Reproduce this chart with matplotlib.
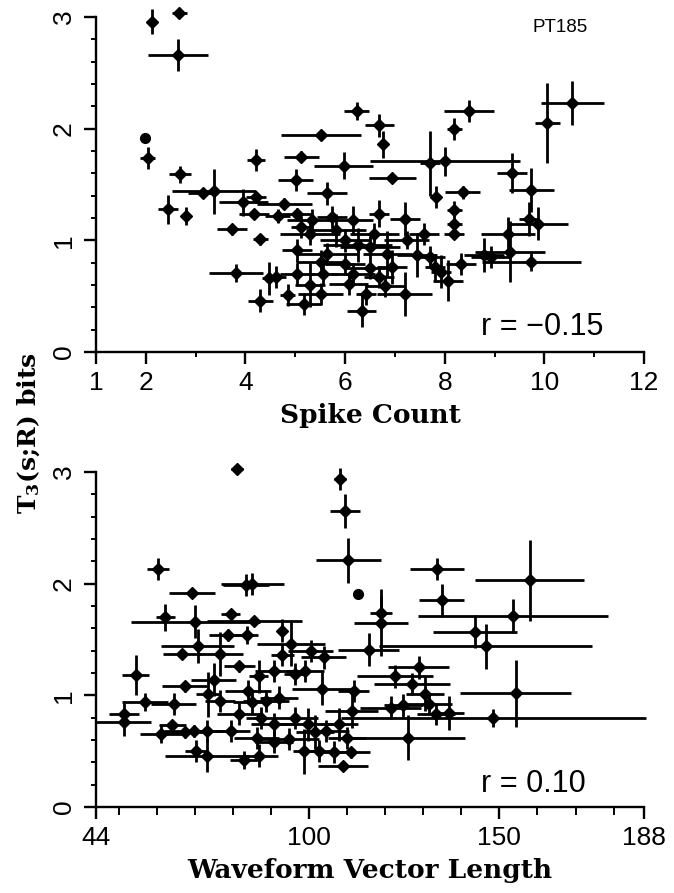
import matplotlib
matplotlib.use('Agg')
import matplotlib.pyplot as plt
from matplotlib.ticker import MultipleLocator, FixedLocator

plt.rcParams['mathtext.fontset'] = 'dejavuserif'

# top panel: spike count
spike_x = [2.12, 2.67, 2.64, 2.04, 2.69, 2.45, 2.81, 3.37, 3.14, 3.73, 3.96, 4.22, 4.22, 4.18, 4.30,
           3.81, 4.30, 4.48, 4.65, 4.78, 5.01, 5.12, 5.51, 5.04, 5.64, 5.97, 6.23, 6.69, 6.76, 6.95,
           7.71, 8.01, 7.82, 8.19, 8.49, 10.06, 10.56, 9.35, 9.74, 8.36, 8.19, 8.19, 8.19, 9.70, 9.87,
           9.27, 9.74, 9.31, 8.79, 8.32, 8.06, 7.93, 7.20, 7.20, 7.24, 7.45, 6.33, 6.42, 6.80, 5.51,
           5.17, 4.85, 5.04, 5.30, 5.34, 5.30, 5.73, 5.81, 5.99, 6.16, 6.25, 6.50, 6.59, 6.85, 5.64,
           5.51, 5.99, 6.16, 6.50, 6.94, 6.68, 5.56, 6.07, 4.61, 5.04, 5.12, 7.58, 7.71, 7.80, 6.68, 8.92]
spike_y = [2.96, 3.04, 2.66, 1.74, 1.59, 1.28, 1.22, 1.44, 1.42, 1.10, 1.34, 1.39, 1.72, 1.24, 1.01,
           0.71, 0.46, 0.66, 1.22, 1.33, 1.54, 1.75, 1.94, 1.24, 1.42, 1.67, 2.16, 2.03, 1.86, 1.56,
           1.69, 1.71, 1.39, 2.00, 2.16, 2.05, 2.23, 1.60, 1.45, 1.43, 1.27, 1.15, 1.06, 1.19, 1.15,
           1.06, 0.81, 0.90, 0.87, 0.79, 0.64, 0.72, 0.52, 1.19, 1.00, 0.87, 0.37, 0.52, 0.59, 0.52,
           0.43, 0.51, 0.70, 0.60, 1.18, 1.06, 1.21, 1.09, 1.00, 1.18, 0.96, 0.94, 1.06, 0.88, 0.88,
           0.81, 0.79, 0.70, 0.75, 0.76, 0.67, 0.70, 0.61, 0.67, 0.91, 1.12, 1.06, 0.85, 0.76, 1.24, 0.85]
spike_xerr = [0.05, 0.15, 0.60, 0.15, 0.22, 0.20, 0.10, 0.85, 0.30, 0.30, 0.50, 0.20, 0.18, 0.30, 0.15,
              0.55, 0.25, 0.15, 0.25, 0.55, 0.35, 0.35, 0.80, 0.30, 0.40, 0.60, 0.25, 0.30, 0.08, 0.47,
              0.20, 1.50, 0.10, 0.15, 0.50, 0.25, 0.63, 0.30, 0.45, 0.35, 0.15, 0.15, 0.20, 0.20, 0.60,
              0.55, 1.00, 0.70, 0.40, 0.30, 0.30, 0.20, 0.55, 0.30, 0.45, 0.40, 0.30, 0.20, 0.40, 0.45,
              0.35, 0.15, 0.35, 0.30, 0.50, 0.60, 0.30, 0.60, 0.50, 0.40, 0.70, 0.60, 0.50, 0.50, 0.60,
              0.50, 0.40, 0.45, 0.50, 0.30, 0.30, 0.30, 0.40, 0.20, 0.30, 0.20, 0.30, 0.30, 0.20, 0.20, 0.40]
spike_yerr = [0.11, 0.04, 0.14, 0.10, 0.08, 0.13, 0.08, 0.20, 0.04, 0.05, 0.12, 0.04, 0.10, 0.04, 0.05,
              0.08, 0.10, 0.15, 0.06, 0.05, 0.10, 0.05, 0.03, 0.05, 0.10, 0.12, 0.08, 0.10, 0.12, 0.04,
              0.29, 0.13, 0.10, 0.10, 0.10, 0.36, 0.20, 0.18, 0.20, 0.06, 0.08, 0.04, 0.05, 0.15, 0.15,
              0.15, 0.08, 0.27, 0.15, 0.10, 0.18, 0.15, 0.20, 0.15, 0.08, 0.20, 0.15, 0.10, 0.10, 0.10,
              0.10, 0.10, 0.10, 0.20, 0.10, 0.10, 0.10, 0.15, 0.10, 0.13, 0.15, 0.10, 0.10, 0.20, 0.10,
              0.10, 0.10, 0.10, 0.10, 0.15, 0.10, 0.10, 0.10, 0.10, 0.10, 0.10, 0.10, 0.10, 0.12, 0.12, 0.10]
spike_dot = [1.99, 1.92]

# bottom panel: waveform vector length
wave_x = [81.1, 108.1, 109.5, 110.3, 133.6, 134.8, 158.0, 153.5, 143.5, 146.4, 154.3, 148.4, 60.3, 69.2,
          62.2, 70.1, 79.4, 85.6, 83.4, 85.1, 78.6, 83.6, 92.8, 70.7, 66.7, 76.6, 54.4, 51.3, 51.3, 56.9,
          61.2, 64.1, 64.4, 67.3, 70.3, 73.1, 73.2, 69.8, 73.4, 74.9, 76.6, 79.4, 81.7, 82.8, 86.8, 86.8,
          87.3, 90.8, 93.0, 95.3, 96.4, 99.0, 100.4, 103.8, 103.5, 98.7, 102.7, 106.6, 108.9, 111.0, 94.7,
          96.4, 99.8, 101.5, 104.4, 107.8, 110.0, 111.2, 111.7, 115.7, 118.9, 118.9, 121.4, 124.8, 125.9,
          127.1, 128.8, 130.5, 131.6, 133.3, 136.7, 84.9, 84.0, 88.6, 92.0, 81.7, 90.8, 67.5, 86.2, 90.8, 122.5]
wave_y = [3.03, 2.94, 2.65, 2.21, 2.13, 1.85, 2.03, 1.71, 1.57, 1.44, 1.02, 0.80, 2.13, 1.92,
          1.70, 1.66, 1.73, 1.67, 1.99, 2.00, 1.54, 1.54, 1.58, 1.44, 1.37, 1.37, 1.18, 0.83, 0.76, 0.94,
          0.65, 0.73, 0.92, 1.08, 0.50, 0.46, 0.68, 0.68, 1.01, 1.14, 0.95, 0.68, 1.26, 0.42, 0.46, 1.17,
          0.80, 1.22, 1.36, 1.46, 1.19, 1.22, 1.40, 1.34, 1.06, 0.50, 0.50, 0.49, 0.37, 0.49, 0.61,
          0.80, 0.74, 0.67, 0.68, 0.74, 0.62, 0.86, 1.04, 1.41, 1.74, 1.65, 0.89, 0.91, 0.62,
          1.10, 1.25, 1.01, 0.92, 0.83, 0.84, 0.94, 1.04, 0.95, 0.98, 0.83, 0.74, 0.67, 0.62, 0.58, 1.17]
wave_xerr = [1.5, 1.5, 4.0, 8.5, 7.0, 6.0, 14.3, 25.0, 11.0, 28.0, 14.6, 40.0, 3.0, 6.0,
             2.5, 17.0, 2.5, 12.5, 6.0, 8.3, 5.0, 3.0, 1.0, 9.6, 5.0, 6.0, 3.5, 4.0, 7.2, 6.0,
             5.7, 3.5, 6.0, 6.0, 3.0, 11.0, 3.0, 8.0, 3.0, 6.0, 4.0, 5.0, 4.0, 3.5, 5.0, 2.5,
             4.0, 5.0, 3.0, 9.0, 3.0, 5.0, 6.0, 6.0, 8.0, 3.0, 4.0, 3.0, 6.5, 5.0, 8.0,
             6.0, 10.0, 5.0, 6.0, 5.0, 5.0, 7.0, 4.0, 8.0, 3.0, 7.0, 8.0, 5.0, 15.0,
             10.0, 8.0, 5.0, 6.0, 5.0, 4.0, 5.0, 6.0, 6.0, 5.0, 6.0, 6.0, 5.0, 6.0, 5.0, 10.0]
wave_yerr = [0.03, 0.10, 0.15, 0.20, 0.10, 0.15, 0.36, 0.15, 0.15, 0.20, 0.30, 0.08, 0.10, 0.03,
             0.12, 0.15, 0.04, 0.04, 0.10, 0.10, 0.05, 0.08, 0.10, 0.15, 0.04, 0.20, 0.18, 0.10, 0.12, 0.08,
             0.08, 0.05, 0.10, 0.05, 0.10, 0.15, 0.10, 0.05, 0.20, 0.15, 0.10, 0.10, 0.05, 0.08, 0.10, 0.15,
             0.10, 0.10, 0.10, 0.20, 0.10, 0.10, 0.10, 0.10, 0.15, 0.20, 0.10, 0.10, 0.03, 0.05, 0.10,
             0.10, 0.15, 0.15, 0.10, 0.15, 0.10, 0.15, 0.10, 0.15, 0.15, 0.30, 0.10, 0.10, 0.20,
             0.10, 0.10, 0.15, 0.10, 0.10, 0.15, 0.10, 0.10, 0.10, 0.10, 0.10, 0.10, 0.05, 0.10, 0.10, 0.10]
wave_dot = [112.9, 1.91]

tick_font = 'Liberation Sans'
label_font = 'DejaVu Serif'


def style_axis(ax):
    for side in ['top', 'right']:
        ax.spines[side].set_visible(False)
    for side in ['left', 'bottom']:
        ax.spines[side].set_linewidth(1.7)
    ax.set_ylim(0, 3)
    ax.yaxis.set_minor_locator(MultipleLocator(0.2))
    ax.tick_params(which='major', length=8.5, width=1.7, direction='out', pad=5)
    ax.tick_params(which='minor', length=3.5, width=1.4, direction='out')
    ax.tick_params(axis='y', which='major', pad=6)
    ax.set_yticks([0, 1, 2, 3])
    ax.set_yticklabels(['0', '1', '2', '3'], rotation=90, va='center',
                       fontsize=19, family=tick_font)


def draw(ax, x, y, xerr, yerr, dot):
    ax.errorbar(x, y, xerr=xerr, yerr=yerr, fmt='D', color='black', ms=6.5,
                elinewidth=2.0, capsize=0, clip_on=False)
    ax.plot(dot[0], dot[1], 'o', color='black', ms=7)


fig = plt.figure(figsize=(6.74, 8.93), dpi=100)

top = fig.add_axes([0.1424, 0.6058, 0.8131, 0.3751])
draw(top, spike_x, spike_y, spike_xerr, spike_yerr, spike_dot)
style_axis(top)
top.set_xlim(1, 12)
top.set_xticks([1, 2, 4, 6, 8, 10, 12])
top.set_xticklabels(['1', '2', '4', '6', '8', '10', '12'], fontsize=19, family=tick_font)
top.xaxis.set_minor_locator(FixedLocator([3, 5, 7, 9, 11]))
top.set_xlabel('Spike Count', fontsize=19, fontweight='bold', family=label_font, labelpad=6)
top.text(0.797, 0.955, 'PT185', transform=top.transAxes, fontsize=13.5, family=tick_font,
         ha='left', va='baseline')
top.text(0.703, 0.05, 'r = \u22120.15', transform=top.transAxes, fontsize=22, family=tick_font,
         ha='left', va='baseline')

bot = fig.add_axes([0.1424, 0.0963, 0.8131, 0.3751])
draw(bot, wave_x, wave_y, wave_xerr, wave_yerr, wave_dot)
style_axis(bot)
bot.set_xlim(44, 188)
bot.set_xticks([44, 100, 150, 188])
bot.set_xticklabels(['44', '100', '150', '188'], fontsize=19, family=tick_font)
bot.xaxis.set_minor_locator(FixedLocator([50, 60, 70, 80, 90, 110, 120, 130, 140, 160, 170, 180]))
bot.tick_params(axis='x', which='minor', length=6)
bot.set_xlabel('Waveform Vector Length', fontsize=19, fontweight='bold', family=label_font,
               labelpad=6)
bot.text(0.703, 0.045, 'r = 0.10', transform=bot.transAxes, fontsize=22, family=tick_font,
         ha='left', va='baseline')

fig.text(0.042, 0.515, r'T$_\mathbf{3}$(s;R) bits', rotation=90, fontsize=18, fontweight='bold',
         family=label_font, ha='center', va='center')

fig.savefig('out.png', dpi=100)
